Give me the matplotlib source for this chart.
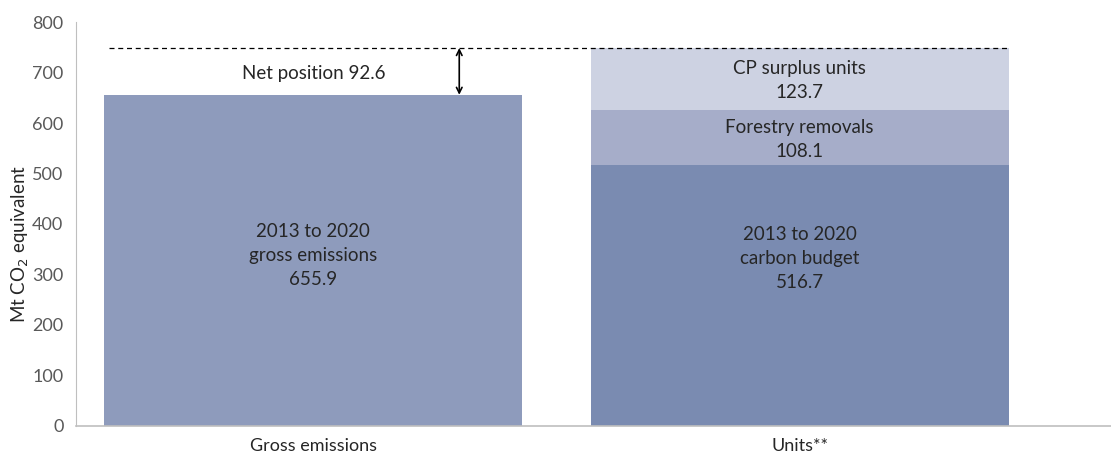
import matplotlib
matplotlib.use("Agg")
import matplotlib.pyplot as plt

categories = ["Gross emissions", "Units**"]
gross = [655.9]
budget = [516.7]
forestry = [108.1]
surplus = [123.7]
net_position = 92.6
yticks = [0, 100, 200, 300, 400, 500, 600, 700, 800]

plt.rcParams['font.family'] = ['Lato', 'DejaVu Sans']
fig = plt.figure(figsize=(11.11, 4.59), dpi=100)
ax = fig.add_axes([0.0684, 0.072, 0.9316, 0.88])

c_gross = "#8E9BBC"
c_budget = "#7A8BB1"
c_forest = "#A6ADC9"
c_surplus = "#CDD2E2"
w = 0.86
ax.bar([0], gross, width=w, color=c_gross)
ax.bar([1], budget, width=w, color=c_budget)
ax.bar([1], forestry, bottom=budget, width=w, color=c_forest)
ax.bar([1], surplus, bottom=[budget[0] + forestry[0]], width=w, color=c_surplus)

total = budget[0] + forestry[0] + surplus[0]
ax.plot([-0.42, 1 + w / 2], [total, total], color="black", lw=0.9, ls=(0, (4, 3)))
ax.annotate("", xy=(0.3, gross[0]), xytext=(0.3, total),
            arrowprops=dict(arrowstyle="<->", color="black", lw=1.2, shrinkA=0, shrinkB=0))

tc = "#262626"
fs = 13.5
ls = 1.5
ax.text(0, gross[0] + net_position / 2 - 4, f"Net position {net_position}", ha="center", va="center", fontsize=fs, color=tc)
ax.text(0, 338, f"2013 to 2020\ngross emissions\n{gross[0]}", ha="center", va="center", fontsize=fs, color=tc, linespacing=ls)
ax.text(1, 332, f"2013 to 2020\ncarbon budget\n{budget[0]}", ha="center", va="center", fontsize=fs, color=tc, linespacing=ls)
ax.text(1, budget[0] + forestry[0] / 2 - 4, f"Forestry removals\n{forestry[0]}", ha="center", va="center", fontsize=fs, color=tc, linespacing=ls)
ax.text(1, budget[0] + forestry[0] + surplus[0] / 2 - 2, f"CP surplus units\n{surplus[0]}", ha="center", va="center", fontsize=fs, color=tc, linespacing=ls)

ax.set_xlim(-0.488, 1.64)
ax.set_ylim(0, 800)
ax.set_yticks(yticks)
ax.set_xticks([0, 1])
ax.set_xticklabels(categories)
ax.tick_params(axis="both", length=0, labelsize=13, colors="#595959")
ax.tick_params(axis="x", pad=9, colors=tc)
ax.tick_params(axis="y", pad=9)
ax.set_ylabel("Mt CO$_2$ equivalent", fontsize=13.5, color=tc)
ax.yaxis.set_label_coords(-0.043, 0.45)
for s in ["top", "right"]:
    ax.spines[s].set_visible(False)
ax.spines["left"].set_color("#BFBFBF")
ax.spines["bottom"].set_color("#BFBFBF")
ax.spines["bottom"].set_linewidth(1.2)

fig.savefig("out.png", dpi=100)
